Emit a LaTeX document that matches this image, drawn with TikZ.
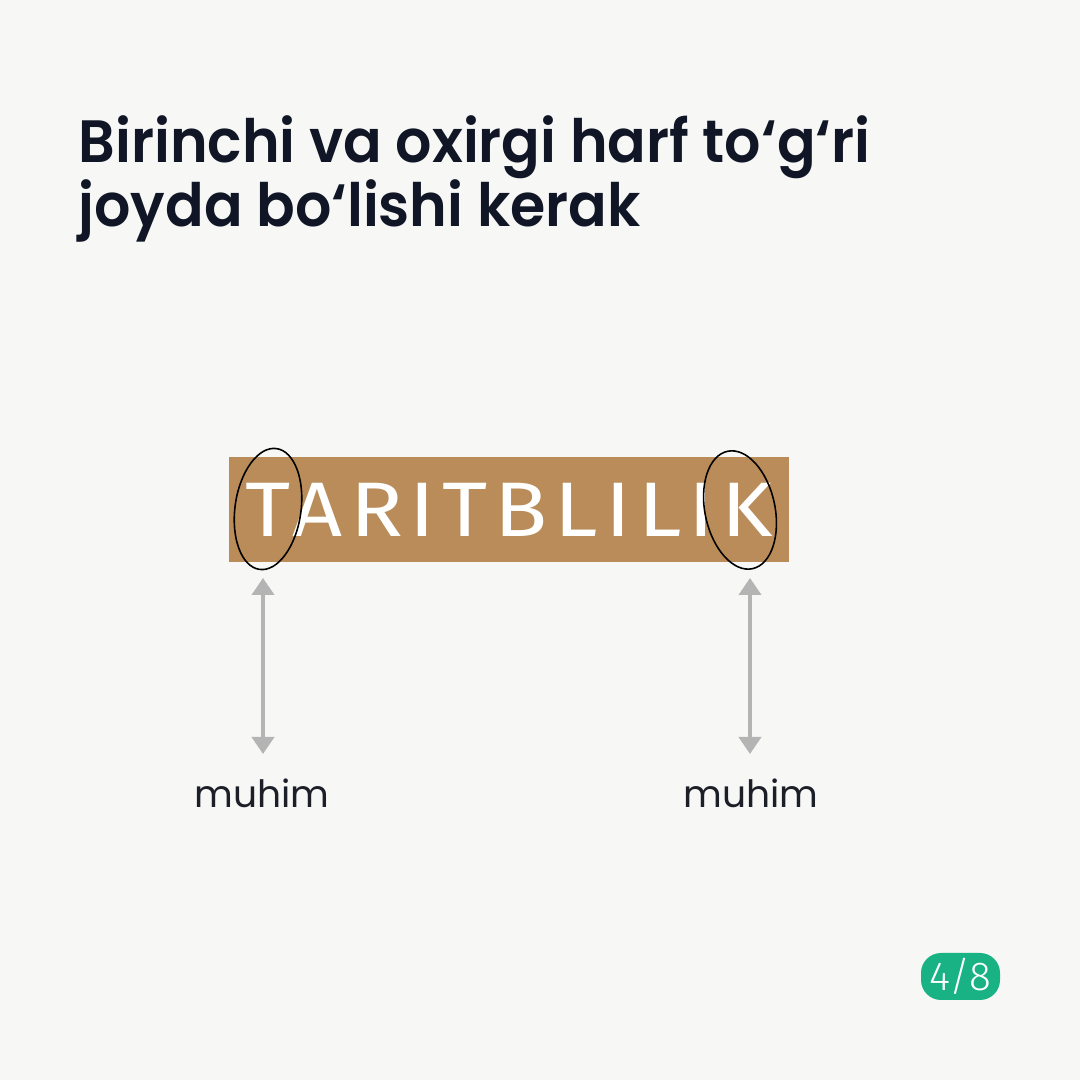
\documentclass[tikz,border=0pt]{standalone}
\usepackage{fontspec}
\setmainfont{Poppins}
\newfontfamily\titlefont{Poppins SemiBold}[FakeStretch=0.955]
\newfontfamily\wordfont{Fira Sans}[LetterSpace=9,FakeStretch=1.13]
\newfontfamily\badgefont{Fira Sans Light}
\usepackage{tikz}
\usetikzlibrary{arrows.meta,positioning,calc}
\usepackage{xcolor}
\definecolor{pagebg}{RGB}{247,247,245}
\definecolor{titleink}{RGB}{16,22,38}
\definecolor{wordbrown}{RGB}{185,140,90}
\definecolor{arrowgrey}{RGB}{180,180,180}
\definecolor{labelink}{RGB}{28,30,40}
\definecolor{badgegreen}{RGB}{24,178,133}
\tikzstyle{dblarrow} = [line width=1.1pt,{Triangle[width=0.22cm,length=0.17cm]}-{Triangle[width=0.22cm,length=0.17cm]},color=arrowgrey]
\tikzstyle{ring} = [line width=0.45pt,black]
\tikzstyle{label} = [font=\fontsize{10.7}{13}\selectfont, text=labelink, anchor=base, inner sep=0pt]

\begin{document}
\begin{tikzpicture}
% Background
\fill[pagebg] (0,0) rectangle (10.8,10.8);
\useasboundingbox (0,0) rectangle (10.8,10.8);

% Title
\node[anchor=base west, inner sep=0pt, font=\titlefont\fontsize{17}{20}\selectfont, text=titleink] (title1) at (0.78, 9.17) {Birinchi va oxirgi harf to‘g‘ri};
\node[anchor=base west, inner sep=0pt, font=\titlefont\fontsize{17}{20}\selectfont, text=titleink] (title2) at ([yshift=-0.64cm]title1.base west) {joyda bo‘lishi kerak};

% Word box
\node[fill=wordbrown, minimum width=5.6cm, minimum height=1.05cm, inner sep=0pt, text=white, font=\wordfont\fontsize{22}{24}\selectfont] (word) at (5.09, 5.705) {TARITBLILIK};

% Rings round first and last letter
\draw[ring, rotate around={-8:(2.68,5.71)}] (2.68,5.71) ellipse [x radius=0.33cm, y radius=0.61cm];
\draw[ring, rotate around={12:(7.40,5.70)}] (7.40,5.70) ellipse [x radius=0.35cm, y radius=0.60cm];

% Arrows
\coordinate (Ttop) at (2.63, 5.02);
\coordinate (Tbot) at (2.63, 3.26);
\coordinate (Ktop) at (7.50, 5.02);
\coordinate (Kbot) at (7.50, 3.26);
\draw[dblarrow] (Ttop) -- (Tbot);
\draw[dblarrow] (Ktop) -- (Kbot);

% Labels
\node[label] (muhimT) at (2.62, 2.72) {muhim};
\node[label] (muhimK) at (7.51, 2.72) {muhim};

% Page badge
\node[fill=badgegreen, rounded corners=0.2cm, minimum width=0.79cm, minimum height=0.47cm, inner sep=0pt, text=white, font=\badgefont\fontsize{11.5}{12}\selectfont] (page) at (9.605, 1.035) {4/8};
\end{tikzpicture}
\end{document}
